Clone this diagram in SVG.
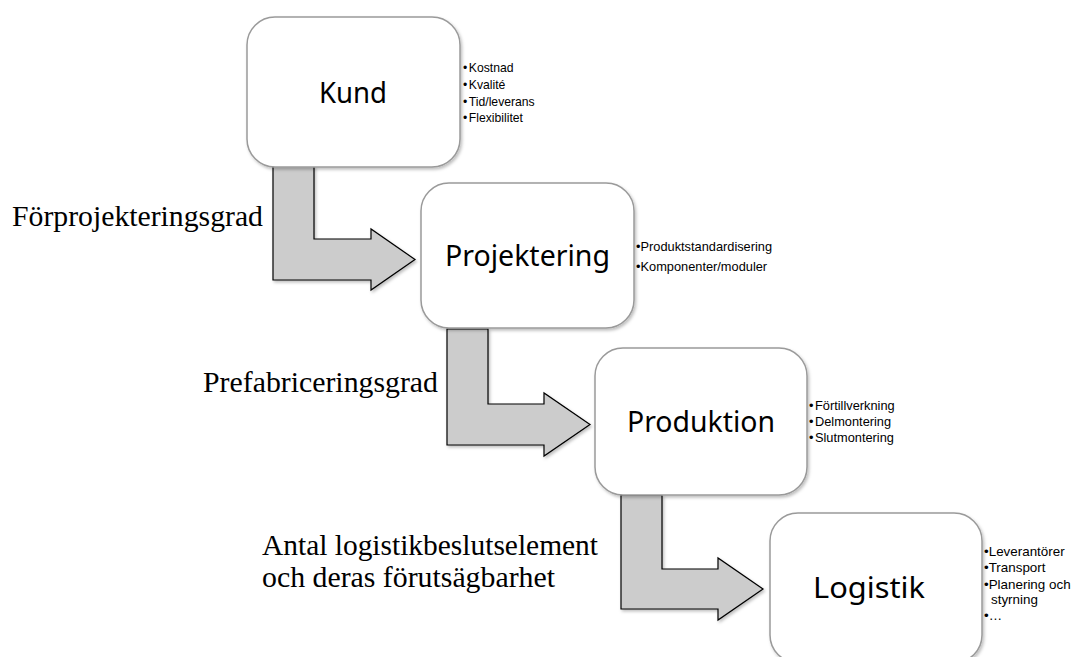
<svg xmlns="http://www.w3.org/2000/svg" width="1077" height="657" viewBox="0 0 1077 657">
<style>
.box{fill:#ffffff;stroke:#9a9a9a;stroke-width:1.5}
.arrow{fill:#cccccc;stroke:#000000;stroke-width:1.2;stroke-linejoin:miter}
.title{font-family:"Noto Sans","Open Sans",sans-serif;font-size:29px;fill:#000;text-anchor:middle}
.bul{font-family:"Liberation Sans",Arial,sans-serif;font-size:12.5px;fill:#000}
.lab{font-family:"Liberation Serif",serif;font-size:29.5px;fill:#000}
</style>
<defs>
<filter id="sh" x="-10%" y="-10%" width="125%" height="125%">
<feDropShadow dx="1.5" dy="2" stdDeviation="1.5" flood-color="#000" flood-opacity="0.25"/>
</filter>
</defs>
<rect width="1077" height="657" fill="#ffffff"/>
<g id="connectors">
<polygon class="arrow" filter="url(#sh)" points="273,166 314,166 314,239 371,239 371,229 415,259.5 371,290 371,280 273,280"/>
<polygon class="arrow" filter="url(#sh)" points="447,329 488,329 488,404 544,404 544,393 590,424.5 544,456 544,445 447,445"/>
<polygon class="arrow" filter="url(#sh)" points="621,495 662,495 662,569 718,569 718,558 763,589 718,620 718,609 621,609"/>
</g>
<g id="labels">
<text class="lab" x="12" y="226" textLength="251" lengthAdjust="spacingAndGlyphs">Förprojekteringsgrad</text>
<text class="lab" x="203" y="392" textLength="235" lengthAdjust="spacingAndGlyphs">Prefabriceringsgrad</text>
<text class="lab" x="262" y="555" textLength="336" lengthAdjust="spacingAndGlyphs">Antal logistikbeslutselement</text>
<text class="lab" x="262" y="587" textLength="293" lengthAdjust="spacingAndGlyphs">och deras förutsägbarhet</text>
</g>
<g id="kund">
<rect class="box" filter="url(#sh)" x="247" y="17" width="213" height="150" rx="28"/>
<text class="title" x="353" y="103" textLength="68" lengthAdjust="spacingAndGlyphs">Kund</text>
<g class="bul" style="font-size:12.2px">
<text x="463" y="72">•<tspan dx="1.5">Kostnad</tspan></text>
<text x="463" y="89">•<tspan dx="1.5">Kvalité</tspan></text>
<text x="463" y="106">•<tspan dx="1.5">Tid/leverans</tspan></text>
<text x="463" y="122">•<tspan dx="1.5">Flexibilitet</tspan></text>
</g>
</g>
<g id="projektering">
<rect class="box" filter="url(#sh)" x="421" y="183" width="213" height="145" rx="28"/>
<text class="title" x="527.5" y="266" textLength="165" lengthAdjust="spacingAndGlyphs">Projektering</text>
<g class="bul" style="font-size:12.8px">
<text x="636" y="251">•Produktstandardisering</text>
<text x="636" y="271">•Komponenter/moduler</text>
</g>
</g>
<g id="produktion">
<rect class="box" filter="url(#sh)" x="595" y="348" width="212" height="147" rx="28"/>
<text class="title" x="701" y="432" textLength="148" lengthAdjust="spacingAndGlyphs">Produktion</text>
<g class="bul" style="font-size:12.8px">
<text x="809" y="410">•<tspan dx="1.5">Förtillverkning</tspan></text>
<text x="809" y="426">•<tspan dx="1.5">Delmontering</tspan></text>
<text x="809" y="442">•<tspan dx="1.5">Slutmontering</tspan></text>
</g>
</g>
<g id="logistik">
<rect class="box" filter="url(#sh)" x="770" y="513" width="212" height="150" rx="28"/>
<text class="title" x="869" y="598" textLength="112" lengthAdjust="spacingAndGlyphs">Logistik</text>
<g class="bul" style="font-size:13.4px">
<text x="984" y="556">•Leverantörer</text>
<text x="984" y="572">•Transport</text>
<text x="984" y="588.5">•Planering och</text>
<text x="991" y="604">styrning</text>
<text x="984" y="620">•…</text>
</g>
</g>
</svg>
